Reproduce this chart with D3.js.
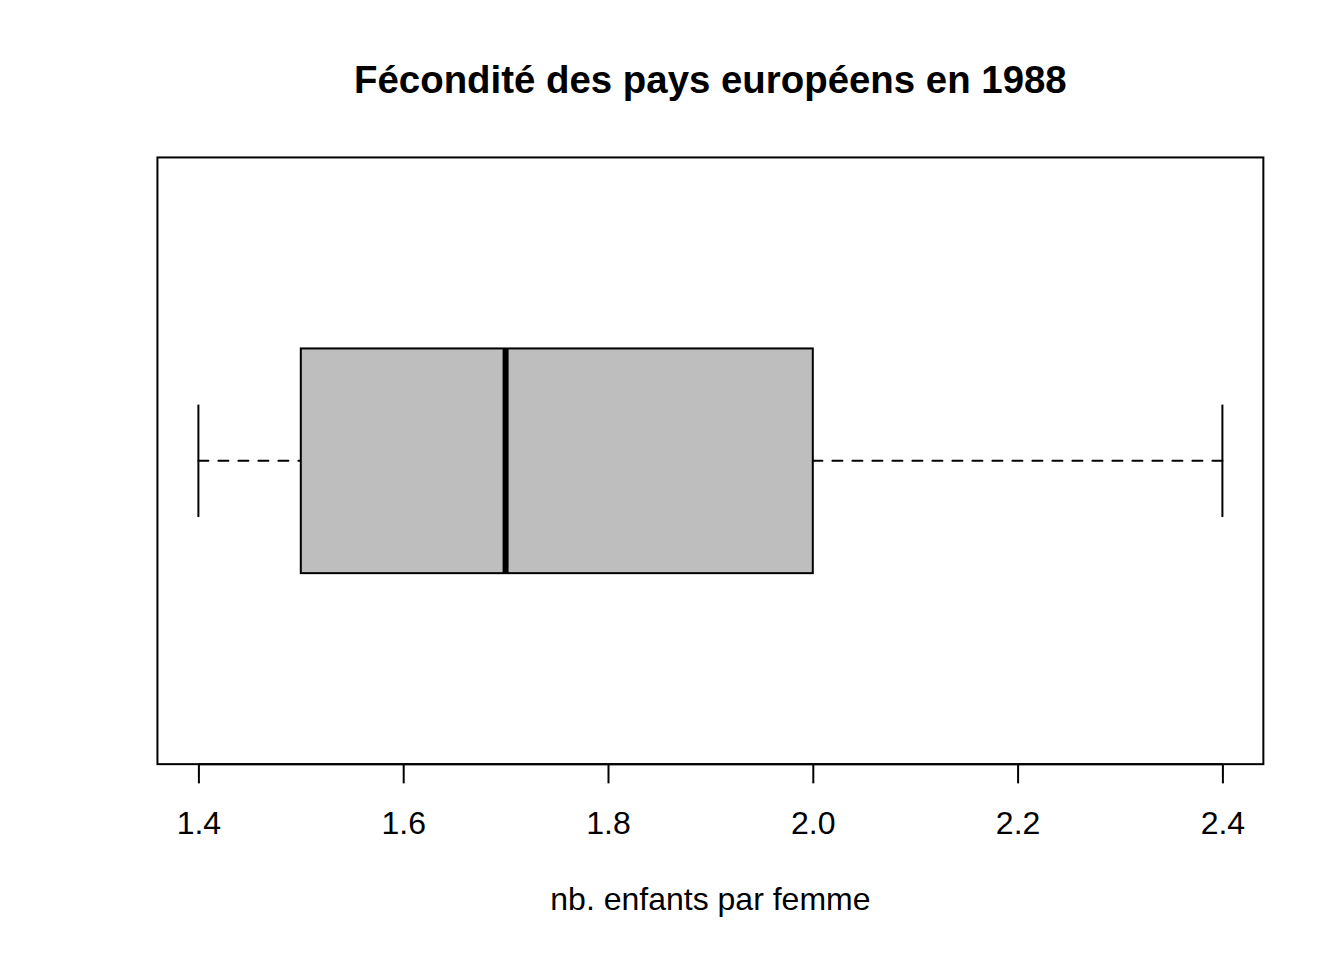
<!DOCTYPE html>
<html>
<head>
<meta charset="utf-8">
<script src="https://cdn.jsdelivr.net/npm/d3@7"></script>
<style>
  body { margin: 0; background: #fff; }
  text { font-family: "Liberation Sans", Arial, Helvetica, sans-serif; fill: #000; }
</style>
</head>
<body>
<svg id="chart" width="1344" height="960"></svg>
<script>
// Data
var title = "Fécondité des pays européens en 1988";
var xLabel = "nb. enfants par femme";
var groups = ["1988"];
// five-number summary: lower whisker, Q1, median, Q3, upper whisker
var stats = [1.4, 1.5, 1.7, 2.0, 2.4];
var tickValues = [1.4, 1.6, 1.8, 2.0, 2.2, 2.4];
var tickLabels = ["1.4", "1.6", "1.8", "2.0", "2.2", "2.4"];

// Set dimensions (R default margins at 192 dpi)
var width = 1344,
    height = 960,
    line = 38.4,
    margin = { top: 4.1 * line, right: 2.1 * line, bottom: 5.1 * line, left: 4.1 * line };

var x0 = margin.left,
    x1 = width - margin.right,
    y0 = margin.top,
    y1 = height - margin.bottom;

// Scales, with R's 4% padding
var xRange = d3.extent(stats),
    xPad = (xRange[1] - xRange[0]) * 0.04;
var x = d3.scaleLinear()
    .domain([xRange[0] - xPad, xRange[1] + xPad])
    .range([x0, x1]);

var y = d3.scaleLinear()
    .domain([0.5 - 0.04, groups.length + 0.5 + 0.04])
    .range([y1, y0]);

var svg = d3.select("#chart");

// Title
svg.append("text")
    .attr("x", (x0 + x1) / 2)
    .attr("y", 93)
    .attr("text-anchor", "middle")
    .style("font-size", "38.4px")
    .style("font-weight", "bold")
    .text(title);

var boxHalf = 0.2,
    capHalf = 0.1;

var g = svg.append("g");

groups.forEach(function(grp, i) {
    var c = i + 1;

    // whiskers (dashed, drawn from the whisker end towards the box)
    [[stats[0], stats[1]], [stats[4], stats[3]]].forEach(function(seg) {
        g.append("line")
            .attr("x1", x(seg[0])).attr("x2", x(seg[1]))
            .attr("y1", y(c)).attr("y2", y(c))
            .attr("stroke", "#000").attr("stroke-width", 2)
            .attr("stroke-linecap", "round")
            .attr("stroke-dasharray", "10,10");
    });

    // staples
    [stats[0], stats[4]].forEach(function(v) {
        g.append("line")
            .attr("x1", x(v)).attr("x2", x(v))
            .attr("y1", y(c - capHalf)).attr("y2", y(c + capHalf))
            .attr("stroke", "#000").attr("stroke-width", 2);
    });

    // box
    g.append("rect")
        .attr("x", x(stats[1]))
        .attr("y", y(c + boxHalf))
        .attr("width", x(stats[3]) - x(stats[1]))
        .attr("height", y(c - boxHalf) - y(c + boxHalf))
        .attr("fill", "#bebebe")
        .attr("stroke", "#000")
        .attr("stroke-width", 2);

    // median
    g.append("line")
        .attr("x1", x(stats[2])).attr("x2", x(stats[2]))
        .attr("y1", y(c - boxHalf)).attr("y2", y(c + boxHalf))
        .attr("stroke", "#000").attr("stroke-width", 6);
});

// Plot frame
svg.append("rect")
    .attr("x", x0)
    .attr("y", y0)
    .attr("width", x1 - x0)
    .attr("height", y1 - y0)
    .attr("fill", "none")
    .attr("stroke", "#000")
    .attr("stroke-width", 2);

// X axis
var axis = svg.append("g")
    .attr("transform", "translate(0," + y1 + ")")
    .call(d3.axisBottom(x)
        .tickValues(tickValues)
        .tickFormat(function(d, i) { return tickLabels[i]; })
        .tickSize(19.2)
        .tickPadding(0));

axis.select(".domain")
    .attr("d", "M" + x(tickValues[0]) + ",0H" + x(tickValues[tickValues.length - 1]))
    .attr("stroke-width", 2);
axis.selectAll(".tick line").attr("stroke-width", 2);
axis.selectAll(".tick text")
    .attr("y", 70)
    .attr("dy", null)
    .style("font-size", "32px")
    .style("font-family", "'Liberation Sans', Arial, sans-serif")
    .attr("fill", "#000");

// X label
svg.append("text")
    .attr("x", (x0 + x1) / 2)
    .attr("y", 910)
    .attr("text-anchor", "middle")
    .style("font-size", "32px")
    .text(xLabel);
</script>
</body>
</html>
